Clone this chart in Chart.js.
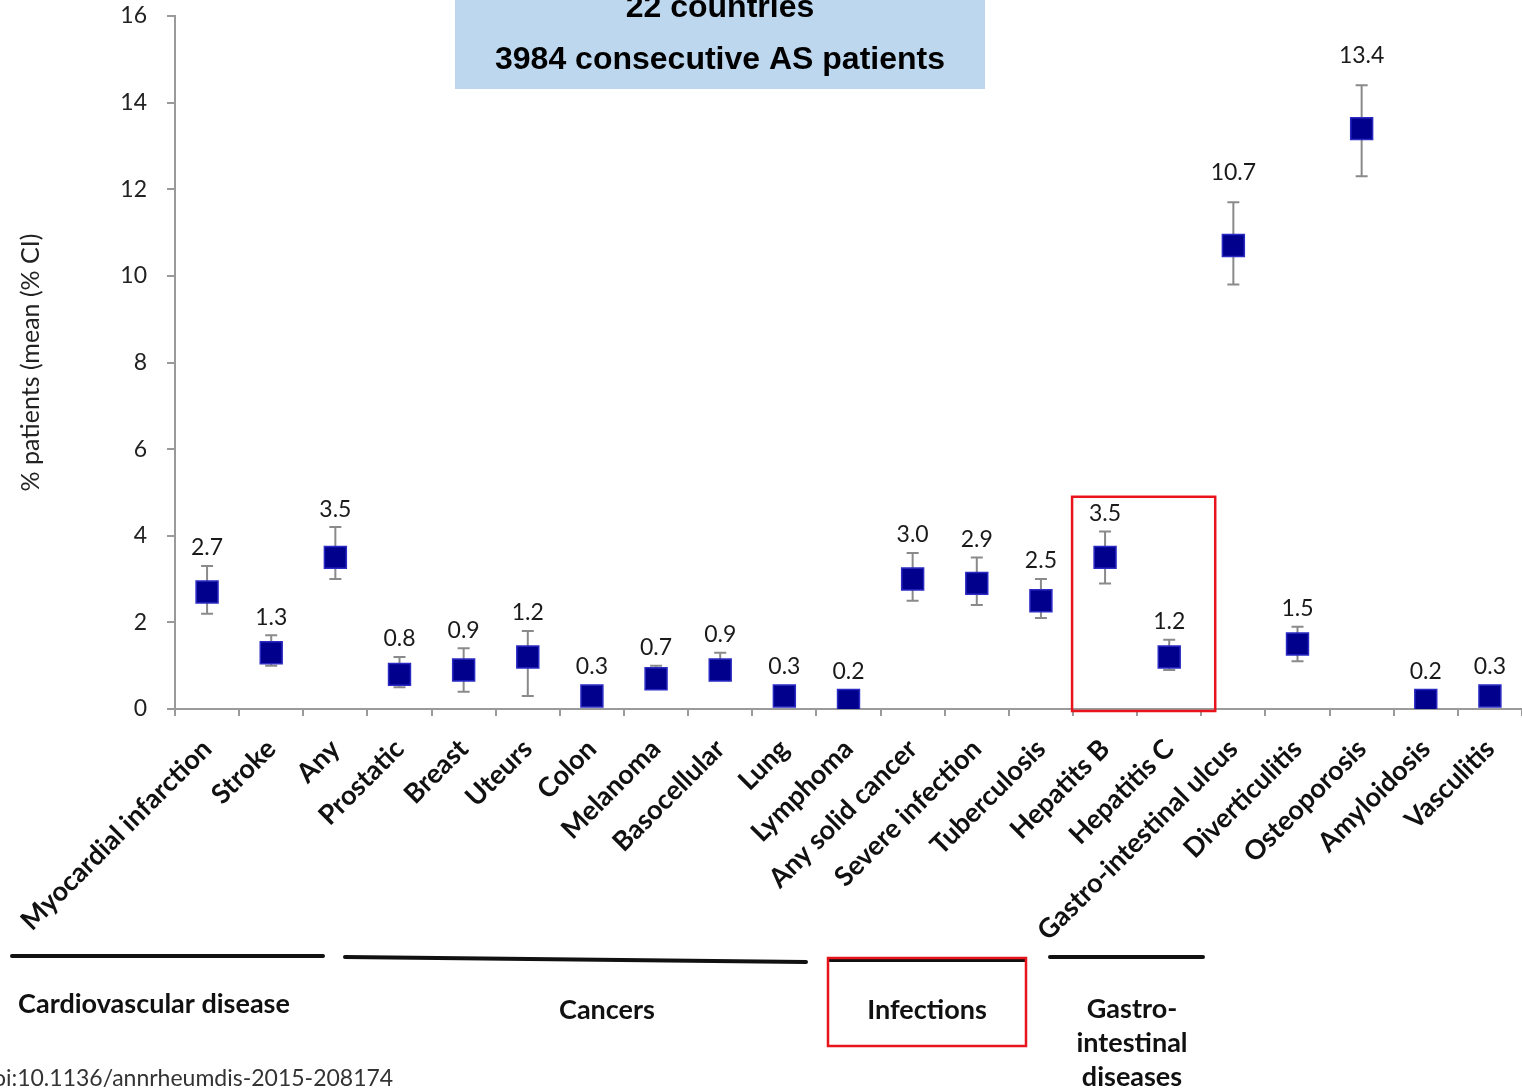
<!DOCTYPE html>
<html>
<head>
<meta charset="utf-8">
<title>Comorbidities in AS patients</title>
<script src="https://cdn.jsdelivr.net/npm/chart.js@4"></script>
<style>
  html, body { margin: 0; padding: 0; background: #fff; }
  #wrap { position: relative; width: 1522px; height: 1089px; }
</style>
</head>
<body>
<div id="wrap"><canvas id="chart"></canvas></div>
<script>
// categories along the x axis
const categories = [
  'Myocardial infarction', 'Stroke', 'Any', 'Prostatic', 'Breast', 'Uteurs',
  'Colon', 'Melanoma', 'Basocellular', 'Lung', 'Lymphoma', 'Any solid cancer',
  'Severe infection', 'Tuberculosis', 'Hepatits B', 'Hepatitis C',
  'Gastro-intestinal ulcus', 'Diverticulitis', 'Osteoporosis', 'Amyloidosis', 'Vasculitis'
];
// mean % of patients and its confidence interval
const meanPct = [2.7, 1.3, 3.5, 0.8, 0.9, 1.2, 0.3, 0.7, 0.9, 0.3, 0.2, 3.0, 2.9, 2.5, 3.5, 1.2, 10.7, 1.5, 13.4, 0.2, 0.3];
const ciLow   = [2.2, 1.0, 3.0, 0.5, 0.4, 0.3, 0.2, 0.5, 0.7, 0.1, 0.1, 2.5, 2.4, 2.1, 2.9, 0.9, 9.8, 1.1, 12.3, 0.1, 0.2];
const ciHigh  = [3.3, 1.7, 4.2, 1.2, 1.4, 1.8, 0.5, 1.0, 1.3, 0.5, 0.4, 3.6, 3.5, 3.0, 4.1, 1.6, 11.7, 1.9, 14.4, 0.3, 0.5];
const yTicks  = [0, 2, 4, 6, 8, 10, 12, 14, 16];

const groupNames = ['Cardiovascular disease', 'Cancers', 'Infections', ['Gastro-', 'intestinal', 'diseases']];
const headerLines = ['22 countries', '3984 consecutive AS patients'];
const sourceNote = 'doi:10.1136/annrheumdis-2015-208174';

const LABEL_FONT = 'Lato, "Open Sans", sans-serif';

// whiskers, value labels, header box and group brackets
const decor = {
  id: 'decor',
  beforeDatasetsDraw(chart) {
    const { ctx, scales: { x, y } } = chart;
    ctx.save();
    ctx.strokeStyle = '#8a8a8a';
    ctx.lineWidth = 2;
    meanPct.forEach((v, i) => {
      const px = x.getPixelForValue(i);
      const top = y.getPixelForValue(ciHigh[i]);
      const bot = y.getPixelForValue(ciLow[i]);
      ctx.beginPath();
      ctx.moveTo(px, top); ctx.lineTo(px, bot);
      ctx.moveTo(px - 6, top); ctx.lineTo(px + 6, top);
      ctx.moveTo(px - 6, bot); ctx.lineTo(px + 6, bot);
      ctx.stroke();
    });
    ctx.restore();
  },
  afterDatasetsDraw(chart) {
    const { ctx, scales: { x, y } } = chart;
    ctx.save();
    // value labels above each whisker
    ctx.font = '23px ' + LABEL_FONT;
    ctx.fillStyle = '#1a1a1a';
    ctx.textAlign = 'center';
    ctx.textBaseline = 'middle';
    meanPct.forEach((v, i) => {
      const px = x.getPixelForValue(i);
      const markTop = y.getPixelForValue(v) - 11;
      const top = Math.min(y.getPixelForValue(ciHigh[i]), markTop);
      const gap = v > 10 ? 30 : 18;
      ctx.fillText(v.toFixed(1), px, top - gap);
    });

    // highlight around the hepatitis pair
    ctx.strokeStyle = '#e8131b';
    ctx.lineWidth = 2.5;
    const hb = x.getPixelForValue(14), hc = x.getPixelForValue(15);
    ctx.strokeRect(hb - 33, y.getPixelForValue(4.9), hc - hb + 79, y.getPixelForValue(0) - y.getPixelForValue(4.9) + 2);

    // header box
    ctx.fillStyle = '#bdd7ee';
    ctx.fillRect(455, 0, 530, 89);
    ctx.fillStyle = '#000';
    ctx.font = 'bold 32px "Liberation Sans", Arial, sans-serif';
    ctx.fillText(headerLines[0], 720, 8);
    ctx.fillText(headerLines[1], 720, 60);

    // group brackets below the category labels
    ctx.strokeStyle = '#111';
    ctx.lineWidth = 4;
    ctx.lineCap = 'round';
    const brackets = [[12, 956, 323, 956], [345, 957, 806, 962], [830, 960, 1025, 960], [1050, 957, 1203, 957]];
    brackets.forEach(b => {
      ctx.beginPath(); ctx.moveTo(b[0], b[1]); ctx.lineTo(b[2], b[3]); ctx.stroke();
    });
    ctx.fillStyle = '#111';
    ctx.font = 'bold 27px ' + LABEL_FONT;
    ctx.fillText(groupNames[0], 154, 1004);
    ctx.fillText(groupNames[1], 607, 1010);
    ctx.fillText(groupNames[2], 927, 1010);
    groupNames[3].forEach((t, k) => ctx.fillText(t, 1132, 1009 + k * 34));

    ctx.strokeStyle = '#e8131b';
    ctx.lineWidth = 2.5;
    ctx.lineCap = 'butt';
    ctx.strokeRect(828, 958, 198, 88);

    // source note
    ctx.fillStyle = '#333';
    ctx.font = '23px ' + LABEL_FONT;
    ctx.textAlign = 'left';
    ctx.fillText(sourceNote, -20, 1079);
    ctx.restore();
  }
};

new Chart(document.getElementById('chart'), {
  type: 'line',
  data: {
    labels: categories,
    datasets: [{
      data: meanPct,
      showLine: false,
      pointStyle: 'rect',
      pointRadius: 15.5,
      pointHoverRadius: 15.5,
      pointBackgroundColor: '#00008c',
      pointBorderColor: '#2b2bc4',
      pointBorderWidth: 1.5
    }]
  },
  options: {
    responsive: true,
    maintainAspectRatio: false,
    animation: false,
    layout: { autoPadding: false, padding: { top: 16, left: 0, right: 0, bottom: 0 } },
    plugins: { legend: { display: false }, tooltip: { enabled: false } },
    scales: {
      x: {
        type: 'category',
        offset: true,
        grid: { offset: true, drawOnChartArea: false, tickLength: 7, color: '#9a9a9a', lineWidth: 2 },
        border: { color: '#9a9a9a', width: 2 },
        ticks: {
          autoSkip: false, maxRotation: 45, minRotation: 45, padding: 17,
          color: '#111', font: { family: LABEL_FONT, size: 27, weight: 'bold' }
        },
        afterFit: s => { s.height = 380; s.paddingLeft = 0; s.paddingRight = 0; }
      },
      y: {
        min: 0,
        max: 16,
        afterBuildTicks: s => { s.ticks = yTicks.map(v => ({ value: v })); },
        grid: { drawOnChartArea: false, tickLength: 8, color: '#9a9a9a', lineWidth: 2 },
        border: { color: '#9a9a9a', width: 2 },
        ticks: { padding: 20, color: '#222', font: { family: LABEL_FONT, size: 23 } },
        title: {
          display: true, text: '% patients (mean (% CI)', color: '#222',
          font: { family: LABEL_FONT, size: 25 }, padding: { top: 16, bottom: 0 }
        },
        afterFit: s => { s.width = 175; s.paddingTop = 0; s.paddingBottom = 0; }
      }
    }
  },
  plugins: [decor]
});
</script>
</body>
</html>
